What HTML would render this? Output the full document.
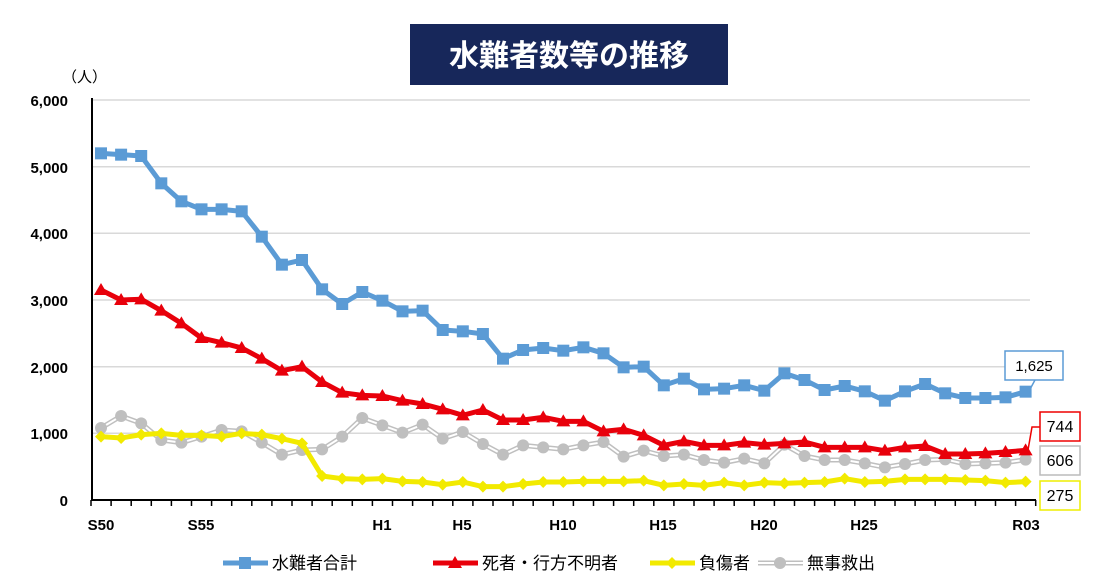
<!DOCTYPE html>
<html><head><meta charset="utf-8"><style>
body{margin:0;background:#fff;width:1101px;height:580px;overflow:hidden;font-family:"Liberation Sans","Noto Sans CJK JP",sans-serif}
svg{position:absolute;left:0;top:0}
</style></head><body>
<svg id="s" width="1101" height="580" xmlns="http://www.w3.org/2000/svg" font-family="Liberation Sans, Noto Sans CJK JP, sans-serif">
<rect x="410" y="24" width="318" height="61" fill="#17275a"/>
<text x="569" y="66" fill="#fff" font-size="30" font-weight="bold" text-anchor="middle" font-family="Noto Sans CJK JP, sans-serif">水難者数等の推移</text>
<text x="62" y="82" font-size="15" font-family="Noto Sans CJK JP, sans-serif">（人）</text>
<g stroke="#d9d9d9" stroke-width="1.5">
<line x1="92" x2="1030" y1="100" y2="100"/><line x1="92" x2="1030" y1="166.7" y2="166.7"/><line x1="92" x2="1030" y1="233.3" y2="233.3"/><line x1="92" x2="1030" y1="300" y2="300"/><line x1="92" x2="1030" y1="366.7" y2="366.7"/><line x1="92" x2="1030" y1="433.3" y2="433.3"/>
</g>
<g font-size="15" font-weight="bold" text-anchor="end">
<text x="68" y="106">6,000</text><text x="68" y="173">5,000</text><text x="68" y="239">4,000</text><text x="68" y="306">3,000</text><text x="68" y="373">2,000</text><text x="68" y="439">1,000</text><text x="68" y="506">0</text>
</g>
<line x1="92" y1="98" x2="92" y2="500" stroke="#000" stroke-width="2"/>
<line x1="91" y1="500" x2="1036" y2="500" stroke="#000" stroke-width="2"/>
<g id="ticks" stroke="#000" stroke-width="1.5"></g>
<g font-size="15" font-weight="bold" text-anchor="middle">
<text x="101" y="530">S50</text><text x="201" y="530">S55</text><text x="382" y="530">H1</text><text x="462" y="530">H5</text><text x="563" y="530">H10</text><text x="663" y="530">H15</text><text x="764" y="530">H20</text><text x="864" y="530">H25</text><text x="1026" y="530">R03</text>
</g>
<g id="series"></g>
<rect x="1005" y="351" width="58" height="29" fill="#fff" stroke="#5b9bd5" stroke-width="1.5"/><text x="1034" y="371" font-size="15" text-anchor="middle">1,625</text>
<line x1="1028" y1="393" x2="1035" y2="380" stroke="#5b9bd5" stroke-width="1.5"/>
<rect x="1040" y="412" width="40" height="29" fill="#fff" stroke="#e00" stroke-width="1.5"/><text x="1060" y="432" font-size="16" text-anchor="middle">744</text>
<polyline points="1028,450 1032,427 1040,427" fill="none" stroke="#e00" stroke-width="1.5"/>
<rect x="1040" y="446" width="40" height="29" fill="#fff" stroke="#bbb" stroke-width="1.5"/><text x="1060" y="466" font-size="16" text-anchor="middle">606</text>
<rect x="1040" y="481" width="40" height="29" fill="#fff" stroke="#ee0" stroke-width="1.5"/><text x="1060" y="501" font-size="16" text-anchor="middle">275</text>
<g id="legend"></g>
<g font-size="17" font-family="Noto Sans CJK JP, sans-serif">
<text x="272" y="569">水難者合計</text><text x="482" y="569">死者・行方不明者</text><text x="699" y="569">負傷者</text><text x="807" y="569">無事救出</text>
</g>
</svg>
<script>
var ns="http://www.w3.org/2000/svg";
function X(i){return 101+i*20.1}function Y(v){return 500-v/1000*66.667}
var blue=[5200,5180,5160,4750,4480,4360,4360,4330,3950,3530,3600,3160,2940,3120,2990,2830,2840,2550,2530,2490,2120,2250,2280,2240,2290,2200,1990,2000,1720,1820,1660,1670,1720,1640,1900,1800,1650,1710,1630,1490,1630,1740,1600,1530,1530,1540,1625];
var red=[3150,3000,3010,2840,2650,2430,2360,2280,2120,1940,2000,1770,1610,1570,1560,1490,1440,1360,1270,1350,1200,1200,1240,1180,1180,1030,1060,970,820,880,820,820,860,830,850,870,790,790,790,740,790,810,690,690,700,720,744];
var yel=[950,930,980,1000,970,970,950,1000,980,920,850,360,320,310,320,280,270,230,270,200,200,240,270,270,280,280,280,290,220,240,220,260,220,260,250,260,270,320,270,280,310,310,310,300,290,260,275];
var gray=[1080,1260,1150,900,860,950,1050,1030,860,680,750,760,950,1230,1120,1010,1130,920,1020,840,680,820,790,760,820,870,650,740,660,680,600,560,620,550,830,660,600,600,550,490,540,600,610,540,550,560,606];
function el(t,a,p){var e=document.createElementNS(ns,t);for(var k in a)e.setAttribute(k,a[k]);p.appendChild(e);return e}
var tk=document.getElementById("ticks");
for(var i=0;i<=47;i++){var x=91+i*20.1;el("line",{x1:x,x2:x,y1:500,y2:506},tk)}
var g=document.getElementById("series");
function pts(d){return d.map(function(v,i){return X(i)+","+Y(v)}).join(" ")}
function mark(type,x,y,c,p){
 if(type=="sq")el("rect",{x:x-6,y:y-6,width:12,height:12,fill:c},p);
 else if(type=="tri")el("polygon",{points:(x)+","+(y-7)+" "+(x-7)+","+(y+5)+" "+(x+7)+","+(y+5),fill:c},p);
 else if(type=="dia")el("polygon",{points:x+","+(y-6)+" "+(x+6)+","+y+" "+x+","+(y+6)+" "+(x-6)+","+y,fill:c},p);
 else el("circle",{cx:x,cy:y,r:6,fill:c},p);
}
function series(d,c,type,w,dbl){
 if(dbl){el("polyline",{points:pts(d),fill:"none",stroke:"#bfbfbf","stroke-width":5},g);el("polyline",{points:pts(d),fill:"none",stroke:"#fff","stroke-width":2},g);}
 else el("polyline",{points:pts(d),fill:"none",stroke:c,"stroke-width":w},g);
 d.forEach(function(v,i){mark(type,X(i),Y(v),c,g)});
}
series(gray,"#bfbfbf","ci",4,true);
series(yel,"#f2ea00","dia",5);
series(red,"#e8000b","tri",5);
series(blue,"#5b9bd5","sq",5);
var L=document.getElementById("legend");
function leg(x,c,type,dbl){
 if(dbl){el("line",{x1:x,x2:x+45,y1:563,y2:563,stroke:"#bfbfbf","stroke-width":5},L);el("line",{x1:x,x2:x+45,y1:563,y2:563,stroke:"#fff","stroke-width":2},L);}
 else el("line",{x1:x,x2:x+45,y1:563,y2:563,stroke:c,"stroke-width":5},L);
 mark(type,x+22,563,c,L);
}
leg(223,"#5b9bd5","sq");leg(433,"#e8000b","tri");leg(650,"#f2ea00","dia");leg(758,"#bfbfbf","ci",true);
</script>
</body></html>
